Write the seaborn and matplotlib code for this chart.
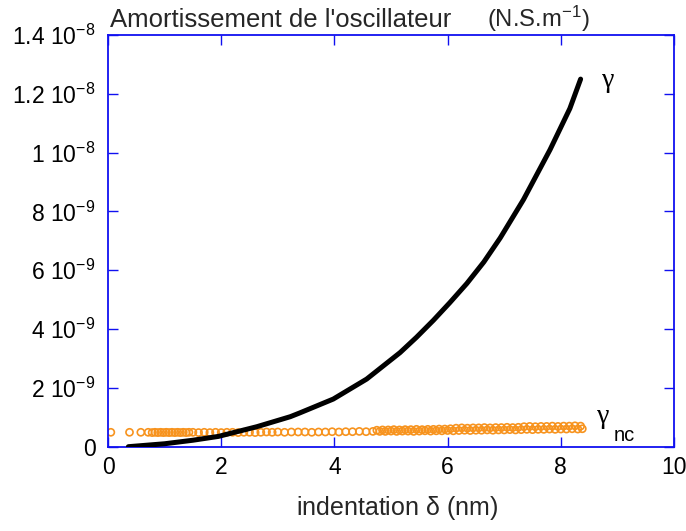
import matplotlib
matplotlib.use("Agg")
import matplotlib.pyplot as plt
import seaborn as sns
import pandas as pd

# ---- data ----
# black curve: gamma (N.S/m) vs indentation (nm)
gamma_x = [0.36, 1.00, 1.50, 1.95, 2.63, 3.22, 3.39, 3.98, 4.57, 5.16, 5.45, 5.75,
           6.04, 6.34, 6.64, 6.93, 7.34, 7.81, 8.16, 8.35]
gamma_y = [0.0e-9, 0.10e-9, 0.22e-9, 0.35e-9, 0.68e-9, 1.02e-9, 1.15e-9, 1.62e-9,
           2.30e-9, 3.20e-9, 3.72e-9, 4.30e-9, 4.90e-9, 5.55e-9, 6.28e-9, 7.10e-9,
           8.40e-9, 10.1e-9, 11.5e-9, 12.5e-9]

# orange circles: gamma_nc, lower row
nc_x1 = [0.05, 0.38, 0.58, 0.71, 0.78, 0.83, 0.88, 0.93, 0.98, 1.03, 1.08, 1.13,
         1.18, 1.23, 1.28, 1.33, 1.38, 1.43, 1.50, 1.60, 1.70, 1.80, 1.90, 2.00,
         2.10, 2.20, 2.30, 2.40, 2.50, 2.60, 2.70, 2.80, 2.90, 3.00, 3.12, 3.24,
         3.36, 3.48, 3.60, 3.72, 3.84, 3.96, 4.08, 4.20, 4.32, 4.44, 4.56, 4.68,
         4.80, 4.90, 5.00, 5.10, 5.20, 5.30, 5.40, 5.50, 5.60, 5.70, 5.80, 5.90,
         6.00, 6.10, 6.20, 6.30, 6.40, 6.50, 6.60, 6.70, 6.80, 6.90, 7.00, 7.10,
         7.20, 7.30, 7.40, 7.50, 7.60, 7.70, 7.80, 7.90, 8.00, 8.10, 8.20, 8.30,
         8.38]
nc_y1 = [0.49e-9, 0.49e-9, 0.49e-9, 0.49e-9, 0.48e-9, 0.49e-9, 0.48e-9, 0.49e-9,
         0.48e-9, 0.49e-9, 0.48e-9, 0.49e-9, 0.48e-9, 0.49e-9, 0.48e-9, 0.49e-9,
         0.48e-9, 0.49e-9, 0.49e-9, 0.48e-9, 0.49e-9, 0.48e-9, 0.49e-9, 0.48e-9,
         0.49e-9, 0.49e-9, 0.48e-9, 0.49e-9, 0.49e-9, 0.48e-9, 0.49e-9, 0.50e-9,
         0.49e-9, 0.50e-9, 0.49e-9, 0.50e-9, 0.50e-9, 0.50e-9, 0.49e-9, 0.50e-9,
         0.50e-9, 0.51e-9, 0.50e-9, 0.51e-9, 0.51e-9, 0.52e-9, 0.51e-9, 0.52e-9,
         0.52e-9, 0.52e-9, 0.53e-9, 0.52e-9, 0.53e-9, 0.53e-9, 0.52e-9, 0.53e-9,
         0.54e-9, 0.53e-9, 0.54e-9, 0.54e-9, 0.55e-9, 0.54e-9, 0.55e-9, 0.56e-9,
         0.55e-9, 0.56e-9, 0.56e-9, 0.57e-9, 0.56e-9, 0.57e-9, 0.57e-9, 0.58e-9,
         0.57e-9, 0.58e-9, 0.59e-9, 0.58e-9, 0.59e-9, 0.59e-9, 0.60e-9, 0.59e-9,
         0.60e-9, 0.60e-9, 0.61e-9, 0.60e-9, 0.61e-9]
# orange circles: gamma_nc, upper row (thick part of the band)
nc_x2 = [4.75, 4.85, 4.95, 5.05, 5.15, 5.25, 5.35, 5.45, 5.55, 5.65, 5.75, 5.85,
         5.95, 6.05, 6.15, 6.25, 6.35, 6.45, 6.55, 6.65, 6.75, 6.85, 6.95, 7.05,
         7.15, 7.25, 7.35, 7.45, 7.55, 7.65, 7.75, 7.85, 7.95, 8.05, 8.15, 8.25,
         8.35]
nc_y2 = [0.56e-9, 0.57e-9, 0.57e-9, 0.58e-9, 0.57e-9, 0.58e-9, 0.58e-9, 0.59e-9,
         0.58e-9, 0.59e-9, 0.59e-9, 0.60e-9, 0.60e-9, 0.61e-9, 0.63e-9, 0.64e-9,
         0.63e-9, 0.64e-9, 0.64e-9, 0.65e-9, 0.64e-9, 0.65e-9, 0.65e-9, 0.66e-9,
         0.65e-9, 0.66e-9, 0.68e-9, 0.69e-9, 0.68e-9, 0.69e-9, 0.69e-9, 0.70e-9,
         0.69e-9, 0.70e-9, 0.70e-9, 0.71e-9, 0.70e-9]

x_ticks = [0, 2, 4, 6, 8, 10]
y_ticks = [0, 2e-9, 4e-9, 6e-9, 8e-9, 1e-8, 1.2e-8, 1.4e-8]
y_tick_labels = ["0", "2 10$^{-9}$", "4 10$^{-9}$", "6 10$^{-9}$", "8 10$^{-9}$",
                 "1 10$^{-8}$", "1.2 10$^{-8}$", "1.4 10$^{-8}$"]

# ---- style ----
sns.set_style("white")
plt.rcParams["font.family"] = ["Liberation Sans", "DejaVu Sans"]
plt.rcParams["mathtext.fontset"] = "custom"
plt.rcParams["mathtext.rm"] = "Liberation Sans"
plt.rcParams["mathtext.it"] = "Liberation Sans:italic"
plt.rcParams["mathtext.default"] = "regular"

BLUE = "#1010f0"
ORANGE = "#f7931e"
FS = 16.5

fig = plt.figure(figsize=(6.86, 5.31), dpi=100)
ax = fig.add_axes([108 / 686, (531 - 446.7) / 531, (674 - 108) / 686, (446.7 - 35) / 531])

df_nc = pd.DataFrame({"x": nc_x1 + nc_x2, "y": nc_y1 + nc_y2})
sns.scatterplot(data=df_nc, x="x", y="y", ax=ax, marker="o", s=26,
                facecolors="none", edgecolor=ORANGE, linewidth=1.2, zorder=2)

df_g = pd.DataFrame({"x": gamma_x, "y": gamma_y})
sns.lineplot(data=df_g, x="x", y="y", ax=ax, color="black", linewidth=3.6,
             sort=True, zorder=3)

ax.set_xlim(0, 10)
ax.set_ylim(0, 1.4e-8)
ax.set_xticks(x_ticks)
ax.set_xticklabels([str(t) for t in x_ticks])
ax.set_yticks(y_ticks)
ax.set_yticklabels(y_tick_labels)

for sp in ax.spines.values():
    sp.set_color(BLUE)
    sp.set_linewidth(1.3)
ax.tick_params(axis="both", which="both", direction="in", length=7, width=1,
               color=BLUE, labelsize=FS, labelcolor="black",
               top=True, right=True, bottom=True, left=True)
ax.tick_params(axis="y", pad=9)
ax.tick_params(axis="x", pad=7)

ax.set_xlabel("indentation $\\delta$ (nm)", fontsize=18, labelpad=9)
ax.xaxis.set_label_coords(0.51, -0.115)
ax.set_ylabel("")

# labels for the curves
ax.text(8.72, 12.45e-9, "\u03b3", fontsize=20, family="Liberation Serif",
        ha="left", va="center", color="black")
ax.text(8.64, 1.02e-9, "\u03b3", fontsize=20, family="Liberation Serif",
        ha="left", va="center", color="black")
ax.text(8.93, 0.38e-9, "nc", fontsize=14.5, ha="left", va="center", color="black")

# title pieces
fig.text(110 / 686, (531 - 27) / 531, "Amortissement de l'oscillateur",
         fontsize=18.5, ha="left", va="baseline")
fig.text(487 / 686, (531 - 27) / 531, "(N.S.m$^{-1}$)",
         fontsize=17.2, ha="left", va="baseline")

fig.savefig("out.png", dpi=100)
